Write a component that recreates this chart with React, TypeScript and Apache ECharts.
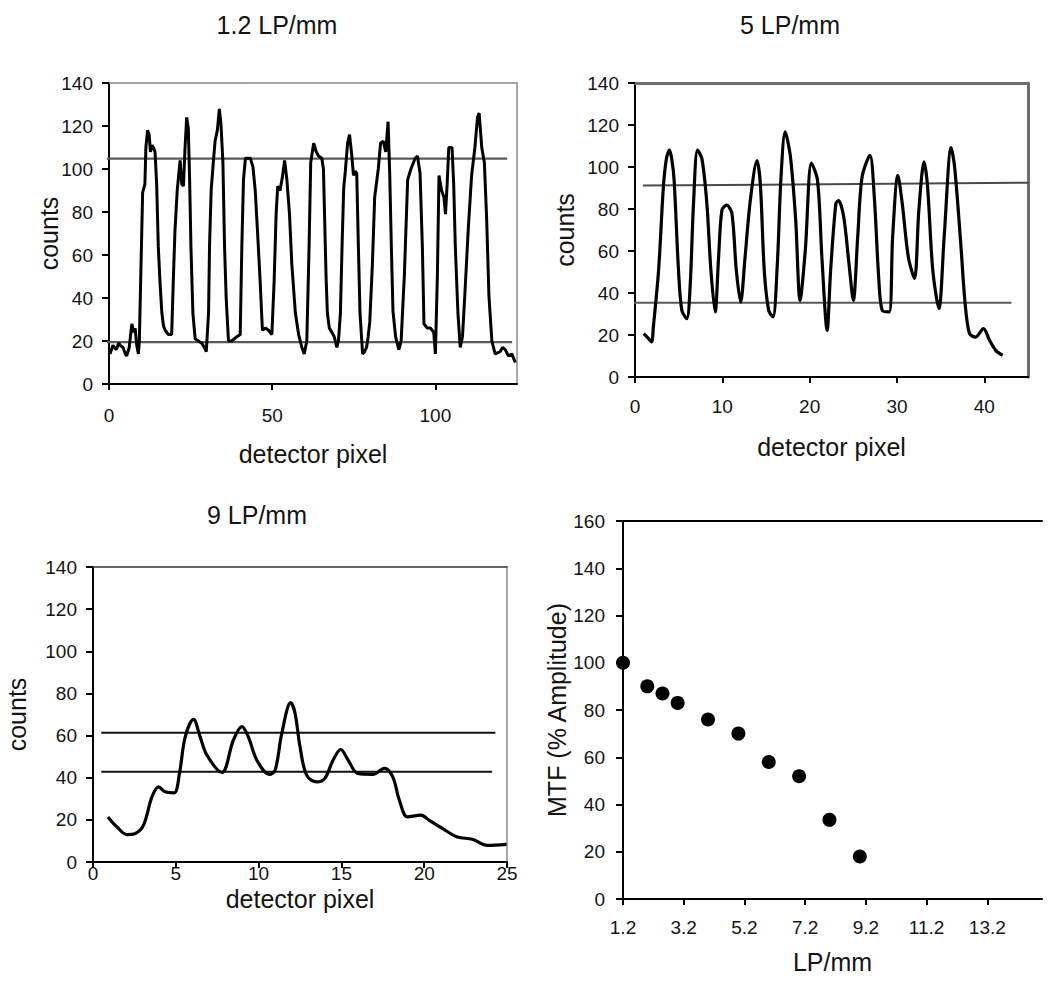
import React, { useEffect, useRef } from "react";
import * as echarts from "echarts";

const FONT = "'Liberation Sans', Arial, Helvetica, sans-serif";
const TEXT = "#141414";

// ---------- Panel 1: 1.2 LP/mm ----------
const p1Profile: [number, number][] = [
  [0.3, 14], [1.2, 18], [2.2, 16], [3.0, 19], [3.4, 18], [4.3, 17], [5.0, 14], [5.4, 13], [6.2, 17], [6.7, 24],
  [7.0, 28], [7.6, 24], [8.0, 26], [8.5, 18], [9.0, 14], [9.3, 20],
  [9.7, 48], [10.3, 89], [11.0, 93], [11.3, 110], [11.8, 118], [12.3, 116], [12.7, 108], [13.2, 111], [13.6, 110],
  [14.1, 108], [14.6, 93], [15.1, 64], [15.6, 48], [16.2, 33], [16.7, 27], [17.2, 25], [18.2, 23], [19.2, 23],
  [19.7, 48], [20.2, 71], [20.9, 90], [21.4, 98], [21.8, 104], [22.3, 93], [22.8, 92], [23.3, 110], [23.8, 124],
  [24.3, 119], [24.7, 95], [25.1, 64], [25.7, 33], [26.4, 21], [27.4, 20], [28.4, 19], [29.2, 17], [29.8, 15],
  [30.5, 33], [30.8, 64], [31.3, 90], [32.0, 104], [32.5, 113], [33.2, 118], [33.8, 128], [34.3, 121], [34.9, 103],
  [35.4, 64], [35.9, 40], [36.6, 20], [37.6, 20], [39.2, 22], [40.2, 23],
  [40.7, 64], [41.2, 95], [41.8, 105], [43.3, 105], [44.1, 101], [44.8, 90], [45.5, 71], [46.3, 48], [47.0, 25],
  [47.9, 26], [48.9, 25], [49.9, 23],
  [50.6, 48], [51.2, 79], [51.7, 92], [52.4, 90], [53.1, 96], [53.8, 104], [54.5, 95], [55.3, 79], [56.0, 56],
  [57.1, 33], [58.1, 23], [59.1, 17], [59.8, 14], [60.6, 20],
  [61.3, 64], [61.8, 103], [62.7, 112], [63.5, 108], [64.2, 106], [65.2, 105], [65.7, 100], [66.1, 75], [66.5, 50],
  [66.9, 33], [67.5, 26], [68.3, 24], [69.0, 22], [69.8, 17], [70.3, 20],
  [70.9, 33], [71.4, 64], [71.9, 91], [72.4, 99], [73.1, 112], [73.7, 116], [74.4, 106], [74.9, 97], [75.4, 99],
  [75.9, 98], [76.4, 64], [76.9, 33], [77.7, 14], [78.3, 15], [78.9, 17], [79.4, 22], [79.9, 29],
  [80.7, 56], [81.4, 87], [82.5, 100], [83.2, 112], [84.0, 113], [84.8, 108], [85.5, 122], [86.0, 98], [86.5, 64],
  [87.0, 34], [87.8, 22], [88.8, 16], [89.5, 20],
  [90.5, 51], [91.5, 95], [92.5, 100], [93.8, 105], [94.5, 106], [95.3, 98], [96.0, 64], [96.5, 28], [97.5, 26],
  [98.5, 26], [99.5, 24], [100.0, 14],
  [100.6, 50], [101.1, 97], [101.9, 90], [102.6, 87], [103.1, 79], [103.6, 93], [104.1, 110], [105.1, 110],
  [105.6, 93], [106.1, 64], [106.9, 33], [107.6, 17], [108.3, 22], [109.0, 41],
  [110.1, 73], [111.1, 97], [112.1, 110], [112.9, 124], [113.4, 126], [114.2, 110], [115.0, 103], [115.7, 77],
  [116.4, 41], [117.3, 20], [118.3, 14], [119.8, 15], [120.6, 17], [121.4, 16], [122.4, 13], [123.4, 14], [124.5, 10],
];
const p1Upper: [number, number][] = [[-2.8, 104.8], [122, 104.8]];
const p1Lower: [number, number][] = [[-2.8, 19.5], [123.5, 19.5]];
const p1XTicks = [0, 50, 100];

// ---------- Panel 2: 5 LP/mm ----------
const p2Profile: [number, number][] = [
  [1.0, 20.7], [1.5, 18.5], [1.9, 16.7], [2.1, 23.8], [2.7, 50.8], [3.25, 90.5], [3.6, 104], [3.94, 108], [4.2, 104],
  [4.48, 93.7], [4.98, 50.8], [5.36, 31.8], [5.93, 27.8], [6.31, 42.9], [6.7, 82.6], [7.16, 108], [7.66, 104],
  [8.23, 82.6], [8.69, 50.8], [9.18, 31], [9.57, 57], [9.95, 79.4], [10.5, 81.8], [11.1, 77.8], [11.6, 50.8],
  [12.1, 35.7], [12.6, 57], [13.2, 84], [13.97, 103], [14.35, 92], [14.8, 50.8], [15.3, 31.8], [15.8, 28.6],
  [16.3, 54], [16.7, 93.7], [17.2, 116.7], [17.8, 104.8], [18.4, 74.6], [18.9, 36.5], [19.5, 60.3], [20.2, 101.9],
  [20.9, 93.7], [21.4, 57], [22.0, 22.2], [22.4, 50.8], [23.0, 82.6], [23.3, 84], [23.9, 76.2], [24.5, 54],
  [25.0, 36.5], [25.5, 66.7], [26.0, 95.2], [26.9, 105.6], [27.4, 85.7], [27.9, 47.6], [28.3, 31.8], [29.1, 31],
  [29.5, 66.7], [30.1, 96], [30.6, 82.6], [31.3, 57], [32.0, 46.9], [32.5, 79.4], [33.1, 102.4], [33.5, 90.5],
  [34.1, 50.8], [34.8, 32.6], [35.4, 66.7], [36.2, 109.2], [36.6, 100], [37.3, 63.5], [37.8, 35], [38.3, 20.7],
  [39.0, 19], [39.9, 23], [40.6, 17.5], [41.3, 12.7], [42.1, 10.3],
];
const p2Upper: [number, number][] = [[0.9, 91.2], [45.2, 92.5]];
const p2Lower: [number, number][] = [[-1.5, 35.4], [43.1, 35.4]];
const p2XTicks = [0, 10, 20, 30, 40];

// ---------- Panel 3: 9 LP/mm ----------
const p3Profile: [number, number][] = [
  [0.9, 21.4], [1.45, 16.6], [2.05, 13], [2.55, 13.5], [3.05, 17.5], [3.56, 30.9], [3.96, 35.7], [4.36, 33.3],
  [4.9, 32.8], [5.22, 42], [5.57, 59.4], [6.07, 67.7], [6.47, 59.4], [6.88, 50.7], [7.78, 42.5], [8.48, 57.9],
  [8.99, 64.2], [9.38, 59.4], [9.89, 48.4], [10.65, 41.6], [11.0, 43.6], [11.4, 61], [11.94, 75.6], [12.2, 70.6],
  [12.5, 54.7], [12.9, 41.2], [13.5, 38], [14.0, 39.7], [14.5, 48.4], [14.96, 53.4], [15.4, 48.4], [16.0, 42],
  [16.9, 41.6], [17.6, 44.4], [18.1, 40.4], [18.5, 29.3], [19.0, 21.4], [19.8, 22.2], [20.3, 19.8], [21.1, 15.9],
  [22.0, 11.9], [22.9, 10.8], [23.8, 7.9], [24.97, 8.4],
];
const p3Upper: [number, number][] = [[0.5, 61.3], [24.3, 61.3]];
const p3Lower: [number, number][] = [[0.5, 42.8], [24.1, 42.8]];
const p3XTicks = [0, 5, 10, 15, 20, 25];

// ---------- Panel 4: MTF ----------
const mtfFreq = [1.2, 2, 2.5, 3, 4, 5, 6, 7, 8, 9];
const mtfAmp = [100, 90, 87, 83, 76, 70, 58, 52, 33.5, 18];
const p4XTicks = [1.2, 3.2, 5.2, 7.2, 9.2, 11.2, 13.2];

const titles = ["1.2 LP/mm", "5 LP/mm", "9 LP/mm"];

function bottomX(grid: number, min: number, max: number, ticks: number[], margin: number, nameGap: number, name: string) {
  return {
    gridIndex: grid, type: "value", position: "bottom", min, max,
    axisLine: { show: true, onZero: false, lineStyle: { color: "#000", width: 2 } },
    axisTick: { show: true, length: 6, customValues: ticks, lineStyle: { color: "#000", width: 2 } },
    axisLabel: { customValues: ticks, margin, fontSize: 19, fontFamily: FONT, color: TEXT },
    splitLine: { show: false },
    name, nameLocation: "middle", nameGap, nameMoveOverlap: false,
    nameTextStyle: { fontSize: 25, fontFamily: FONT, color: TEXT },
  };
}
function leftY(grid: number, max: number, margin: number, nameGap: number, name: string) {
  return {
    gridIndex: grid, type: "value", position: "left", min: 0, max, interval: 20,
    axisLine: { show: true, onZero: false, lineStyle: { color: "#000", width: 2 } },
    axisTick: { show: true, length: 7, lineStyle: { color: "#000", width: 2 } },
    axisLabel: { margin, fontSize: 19, fontFamily: FONT, color: TEXT },
    splitLine: { show: false },
    name, nameLocation: "middle", nameGap, nameMoveOverlap: false,
    nameTextStyle: { fontSize: 25, fontFamily: FONT, color: TEXT },
  };
}
function topX(grid: number, min: number, max: number, color: string, width: number) {
  return {
    gridIndex: grid, type: "value", position: "top", min, max,
    axisLine: { show: true, onZero: false, lineStyle: { color, width } },
    axisTick: { show: false }, axisLabel: { show: false }, splitLine: { show: false },
  };
}
function rightY(grid: number, max: number, show: boolean, color: string, width: number) {
  return {
    gridIndex: grid, type: "value", position: "right", min: 0, max,
    axisLine: { show, onZero: false, lineStyle: { color, width } },
    axisTick: { show: false }, axisLabel: { show: false }, splitLine: { show: false },
  };
}
function profile(idx: number, data: [number, number][], smooth: number | boolean, width: number) {
  return {
    type: "line", xAxisIndex: idx, yAxisIndex: idx, data, symbol: "none", smooth, z: 3,
    lineStyle: { color: "#000", width }, silent: true,
  };
}
function refLine(idx: number, data: [number, number][], color: string, width: number) {
  return {
    type: "line", xAxisIndex: idx, yAxisIndex: idx, data, symbol: "none", clip: false, z: 2,
    lineStyle: { color, width }, silent: true,
  };
}
function titleText(text: string, x: number, y: number) {
  return {
    type: "text", x, y,
    style: { text, fontSize: 25, fontFamily: FONT, fill: TEXT, align: "center", verticalAlign: "middle" },
  };
}

export default function App() {
  const ref = useRef<HTMLDivElement>(null);
  useEffect(() => {
    if (!ref.current) return;
    const chart = echarts.init(ref.current, undefined, { renderer: "svg" });
    const option: any = {
      animation: false,
      backgroundColor: "#fff",
      grid: [
        { left: 109, top: 83, width: 408, height: 301, outerBoundsMode: "none" },
        { left: 635, top: 83, width: 393, height: 294, outerBoundsMode: "none" },
        { left: 93, top: 567, width: 414, height: 295, outerBoundsMode: "none" },
        { left: 623, top: 521, width: 419, height: 378, outerBoundsMode: "none" },
      ],
      xAxis: [
        bottomX(0, 0, 125, p1XTicks, 22, 57, "detector pixel"),
        bottomX(1, 0, 45, p2XTicks, 20, 57, "detector pixel"),
        bottomX(2, 0, 25, p3XTicks, 2, 24, "detector pixel"),
        bottomX(3, 1.2, 15, p4XTicks, 19, 50, "LP/mm"),
        topX(0, 0, 125, "#8c8c8c", 1.5),
        topX(1, 0, 45, "#6e6e6e", 3),
        topX(2, 0, 25, "#333", 1.5),
        topX(3, 1.2, 15, "#000", 2),
      ],
      yAxis: [
        leftY(0, 140, 16, 48, "counts"),
        leftY(1, 140, 16, 58, "counts"),
        leftY(2, 140, 16, 64, "counts"),
        leftY(3, 160, 18, 54, "MTF (% Amplitude)"),
        rightY(0, 140, true, "#8c8c8c", 1.5),
        rightY(1, 140, true, "#6e6e6e", 3),
        rightY(2, 140, true, "#8c8c8c", 1.5),
        rightY(3, 160, false, "#000", 1),
      ],
      series: [
        refLine(0, p1Upper, "#5a5a5a", 2.2),
        refLine(0, p1Lower, "#5a5a5a", 2.2),
        profile(0, p1Profile, false, 3),
        refLine(1, p2Upper, "#4a4a4a", 2),
        refLine(1, p2Lower, "#5a5a5a", 2),
        profile(1, p2Profile, 0.3, 3.2),
        refLine(2, p3Upper, "#111", 2),
        refLine(2, p3Lower, "#111", 2),
        profile(2, p3Profile, 0.35, 3.2),
        {
          type: "scatter", xAxisIndex: 3, yAxisIndex: 3,
          data: mtfFreq.map((f, i) => [f, mtfAmp[i]]),
          symbol: "circle", symbolSize: 14, itemStyle: { color: "#000", opacity: 1 }, silent: true,
        },
      ],
      graphic: [
        titleText(titles[0], 277, 25),
        titleText(titles[1], 790, 25),
        titleText(titles[2], 257, 515),
      ],
    };
    chart.setOption(option);
    return () => chart.dispose();
  }, []);
  return (
    <div
      ref={ref}
      style={{ position: "fixed", left: 0, top: 0, width: 1050, height: 1003, background: "#fff" }}
    />
  );
}
